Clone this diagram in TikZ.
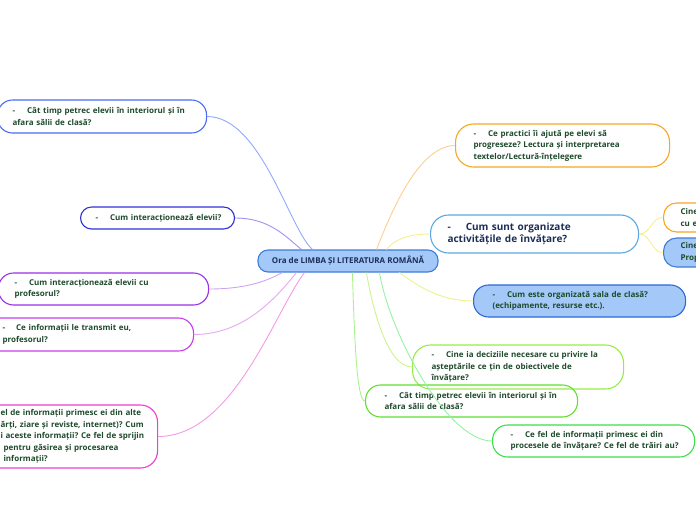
\documentclass[tikz,border=0pt]{standalone}
\usepackage{fontspec}
\setmainfont{Open Sans}
\newcommand\myline[1]{\mbox{#1}}
\definecolor{txtg}{HTML}{1E4A2C}
\definecolor{txtb}{HTML}{1C2E57}
\definecolor{fillb}{HTML}{A4C8F8}
\definecolor{bcn}{HTML}{3F7DD8}
\definecolor{bn2}{HTML}{4A6CF0}
\definecolor{bn3}{HTML}{2F2FD8}
\definecolor{bn4}{HTML}{9A30E8}
\definecolor{bn5}{HTML}{C93CEB}
\definecolor{bn6}{HTML}{EE3DD0}
\definecolor{bn7}{HTML}{F6A623}
\definecolor{bn8}{HTML}{5BA9E0}
\definecolor{bn11}{HTML}{2C6AD6}
\definecolor{bn12}{HTML}{96EC47}
\definecolor{bn13}{HTML}{5EE030}
\definecolor{bn14}{HTML}{3CDF4A}
\definecolor{c2}{HTML}{93A9FB}
\definecolor{c3}{HTML}{A48FF0}
\definecolor{c4}{HTML}{CDA4F3}
\definecolor{c5}{HTML}{E9A6F5}
\definecolor{c6}{HTML}{F49AE6}
\definecolor{c7}{HTML}{FCCF8E}
\definecolor{c8}{HTML}{F7EE8D}
\definecolor{c11}{HTML}{ECF28B}
\definecolor{c12}{HTML}{CDF28E}
\definecolor{c13}{HTML}{ACF08E}
\definecolor{c14}{HTML}{98F0A4}
\begin{document}
\frenchspacing
\begin{tikzpicture}[x=1pt,y=-1pt,
  box/.style={draw, line width=1.1pt, anchor=west, align=left, text=txtg,
    font=\frenchspacing\bfseries\fontsize{8pt}{11.5pt}\selectfont, inner ysep=0pt},
  bluebox/.style={box, fill=fillb},
  conn/.style={line width=0.9pt}]
\useasboundingbox (0,0) rectangle (696,520);
\clip (0,0) rectangle (696,520);

\node[bluebox, draw=bcn, anchor=center, align=center, text=txtb, rounded corners=10pt,
  minimum width=180pt, minimum height=22pt, inner xsep=2pt] (cn) at (348,261)
  {Ora de LIMBA ȘI LITERATURA ROMÂNĂ};

\node[box, draw=bn2, rounded corners=15pt, minimum height=33pt, text width=179pt, inner xsep=15pt] (n2) at (-3,116.5)
  {\myline{-\hspace{12pt}Cât timp petrec elevii în interiorul și în}\\\myline{afara sălii de clasă?}};
\node[box, draw=bn3, rounded corners=11pt, minimum height=22pt, text width=124pt, inner xsep=15pt] (n3) at (80,218)
  {\myline{-\hspace{12pt}Cum interacționează elevii?}};
\node[box, draw=bn4, rounded corners=15pt, minimum height=32pt, text width=178pt, inner xsep=16pt] (n4) at (-2,289)
  {\myline{-\hspace{12pt}Cum interacționează elevii cu}\\\myline{profesorul?}};
\node[box, draw=bn5, rounded corners=15pt, minimum height=33pt, text width=173pt, inner xsep=18pt] (n5) at (-16,334.5)
  {\myline{-\hspace{11pt}Ce informații le transmit eu,}\\\myline{profesorul?}};
\node[box, draw=bn6, rounded corners=17pt, minimum height=63pt, text width=137pt, inner xsep=20pt] (n6) at (-20,436.5)
  {\myline{el de informații primesc ei din alte}\\\myline{ărți, ziare și reviste, internet)? Cum}\\\myline{i aceste informații? Ce fel de sprijin}\\\myline{\hspace*{3pt}pentru găsirea și procesarea}\\\myline{\hspace*{3pt}informații?}};

\node[box, draw=bn7, rounded corners=18pt, minimum height=43pt, text width=178pt, inner xsep=18pt] (n7) at (455,145.5)
  {\myline{-\hspace{12pt}Ce practici îi ajută pe elevi să}\\\myline{progreseze? Lectura și interpretarea}\\\myline{textelor/Lectură-înțelegere}};
\node[box, draw=bn8, rounded corners=18pt, minimum height=38pt, text width=174pt, inner xsep=17pt, text=txtb,
  font=\frenchspacing\bfseries\fontsize{10pt}{12.5pt}\selectfont] (n8) at (430,234)
  {\myline{-\hspace{15pt}Cum sunt organizate}\\\myline{activitățile de învățare?}};
\node[box, draw=bn7, rounded corners=13pt, minimum height=29pt, text width=36pt, inner xsep=17pt] (r1) at (663,217.5)
  {Cine\\cu e};
\node[bluebox, draw=bcn, rounded corners=13pt, minimum height=29pt, text width=36pt, inner xsep=17pt] (r2) at (663,252.5)
  {Cine\\Prop};
\node[bluebox, draw=bn11, rounded corners=15pt, minimum height=32pt, text width=174pt, inner xsep=19pt] (n11) at (473,301)
  {\myline{-\hspace{12pt}Cum este organizată sala de clasă?}\\\myline{(echipamente, resurse etc.).}};
\node[box, draw=bn12, rounded corners=18pt, minimum height=44pt, text width=173pt, inner xsep=19pt] (n12) at (412,367)
  {\myline{-\hspace{12pt}Cine ia deciziile necesare cu privire la}\\\myline{așteptările ce țin de obiectivele de}\\\myline{învățare?}};
\node[box, draw=bn13, rounded corners=15pt, minimum height=32pt, text width=174pt, inner xsep=19pt] (n13) at (365,401)
  {\myline{-\hspace{12pt}Cât timp petrec elevii în interiorul și în}\\\myline{afara sălii de clasă?}};
\node[box, draw=bn14, rounded corners=15pt, minimum height=32pt, text width=166pt, inner xsep=18pt] (n14) at (492,441)
  {\myline{-\hspace{12pt}Ce fel de informații primesc ei din}\\\myline{procesele de învățare? Ce fel de trăiri au?}};

\draw[conn, c2] (n2.east) .. controls +(54,0) and +(-23,-20) .. ([xshift=55pt]cn.north west);
\draw[conn, c3] (n3.east) .. controls +(35,0) and +(-15,-12) .. ([xshift=44pt]cn.north west);
\draw[conn, c4] (n4.east) .. controls +(38,0) and +(-15,8) .. ([xshift=25pt]cn.south west);
\draw[conn, c5] (n5.east) .. controls +(50,0) and +(-20,25) .. ([xshift=39pt]cn.south west);
\draw[conn, c6] (n6.east) .. controls +(75,0) and +(-30,40) .. ([xshift=47pt]cn.south west);
\draw[conn, c7] (n7.west) .. controls +(-38,0) and +(12,-30) .. ([xshift=119pt]cn.north west);
\draw[conn, c8] (n8.west) .. controls +(-22,0) and +(8,-10) .. ([xshift=129pt]cn.north west);
\draw[conn, c11] (n11.west) .. controls +(-36,0) and +(14,10) .. ([xshift=142pt]cn.south west);
\draw[conn, c12] (n12.west) .. controls +(-25,0) and +(6,35) .. ([xshift=109pt]cn.south west);
\draw[conn, c13] (n13.west) .. controls +(-8,0) and +(2,70) .. ([xshift=95pt]cn.south west);
\draw[conn, c14] (n14.west) .. controls +(-45,0) and +(10,60) .. ([xshift=122pt]cn.south west);
\draw[conn, c8] (n8.east) .. controls +(12,0) and +(-12,0) .. (r1.west);
\draw[conn, c8] (n8.east) .. controls +(12,0) and +(-12,0) .. (r2.west);
\end{tikzpicture}
\end{document}
